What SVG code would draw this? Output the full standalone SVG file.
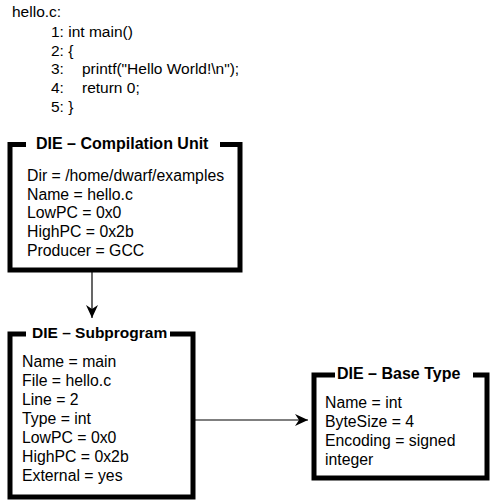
<svg xmlns="http://www.w3.org/2000/svg" width="495" height="503" viewBox="0 0 495 503">
<style>
.t{font-family:"Liberation Sans",Arial,sans-serif;font-size:15.5px;fill:#000}
.b{font-size:15.8px}
.h{font-family:"Liberation Sans",Arial,sans-serif;font-size:16px;font-weight:bold;fill:#000}
.box{fill:#fff;stroke:#000;stroke-width:5}
.gap{fill:#fff}
.con{stroke:#000;stroke-width:1.2;fill:none}
</style>
<defs>
<marker id="ah" markerWidth="14" markerHeight="12" refX="13" refY="6" orient="auto" markerUnits="userSpaceOnUse">
<path d="M0,0 L13,6 L0,12 L4,6 Z" fill="#000"/>
</marker>
</defs>
<rect width="495" height="503" fill="#fff"/>
<g id="source">
<text class="t" x="12" y="17">hello.c:</text>
<text class="t" x="51" y="37">1: int main()</text>
<text class="t" x="51" y="56">2: {</text>
<text class="t" x="51" y="74">3:<tspan x="82">printf("Hello World!\n");</tspan></text>
<text class="t" x="51" y="93">4:<tspan x="82">return 0;</tspan></text>
<text class="t" x="51" y="112">5: }</text>
</g>
<g id="connectors">
<line class="con" x1="92" y1="272" x2="92" y2="318" marker-end="url(#ah)"/>
<line class="con" x1="100" y1="420" x2="308" y2="420" marker-end="url(#ah)"/>
</g>
<g id="cu">
<rect class="box" x="10" y="144.5" width="230" height="125.5"/>
<rect class="gap" x="26" y="140" width="194" height="9"/>
<text class="h" x="36" y="148.5">DIE – Compilation Unit</text>
<text class="t b" x="27" y="181">Dir = /home/dwarf/examples</text>
<text class="t b" x="27" y="199.7">Name = hello.c</text>
<text class="t b" x="27" y="218.4">LowPC = 0x0</text>
<text class="t b" x="27" y="237.1">HighPC = 0x2b</text>
<text class="t b" x="27" y="255.8">Producer = GCC</text>
</g>
<g id="subprogram">
<rect class="box" x="10" y="334" width="183" height="163"/>
<rect class="gap" x="26" y="330" width="144" height="9"/>
<text class="h" x="32" y="338" style="font-size:15.5px">DIE – Subprogram</text>
<text class="t b" x="22" y="367">Name = main</text>
<text class="t b" x="22" y="386">File = hello.c</text>
<text class="t b" x="22" y="405">Line = 2</text>
<text class="t b" x="22" y="424">Type = int</text>
<text class="t b" x="22" y="443">LowPC = 0x0</text>
<text class="t b" x="22" y="462">HighPC = 0x2b</text>
<text class="t b" x="22" y="481">External = yes</text>
</g>
<g id="basetype">
<rect class="box" x="314" y="375" width="173" height="103"/>
<rect class="gap" x="335" y="371" width="138" height="9"/>
<text class="h" x="337" y="379">DIE – Base Type</text>
<text class="t b" x="325" y="408">Name = int</text>
<text class="t b" x="325" y="427">ByteSize = 4</text>
<text class="t b" x="325" y="446">Encoding = signed</text>
<text class="t b" x="325" y="465">integer</text>
</g>
</svg>
